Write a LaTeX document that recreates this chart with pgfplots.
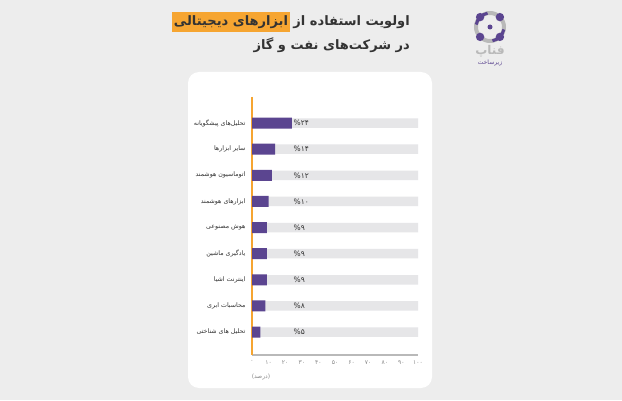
\documentclass[border=0pt]{standalone}
\usepackage{pgfplots}
\pgfplotsset{compat=1.18}
\usepackage{fontspec}
\setmainfont{DejaVu Sans}
\newfontfamily\fa[Script=Arabic]{DejaVu Sans}
\TeXXeTstate=1
\definecolor{bg}{HTML}{EDEDED}
\definecolor{barp}{HTML}{5B4590}
\definecolor{barg}{HTML}{E6E6E8}
\definecolor{orng}{HTML}{F6A531}
\definecolor{txt}{HTML}{333333}
\definecolor{tickc}{HTML}{8A8A8A}
\definecolor{logog}{HTML}{B9B9B9}
\begin{document}
\begin{tikzpicture}
\begin{scope}[x=1pt,y=1pt]
\fill[bg] (0,0) rectangle (622,400);
\fill[black!7,rounded corners=11pt] (189,10) rectangle (434,327);
\fill[white,rounded corners=11pt] (188,12) rectangle (432,328);
% title
\node[anchor=east,inner sep=0pt,text=txt,font=\fa\bfseries\fontsize{13}{15}\selectfont] (t1) at (410,378) {\beginR اولویت استفاده از\endR};
\node[anchor=east,inner xsep=2pt,inner ysep=3pt,fill=orng,text=txt,font=\fa\bfseries\fontsize{13}{15}\selectfont] at ([xshift=-3pt]t1.west) {\beginR ابزارهای دیجیتالی\endR};
\node[anchor=east,inner sep=0pt,text=txt,font=\fa\bfseries\fontsize{13}{15}\selectfont] at (410,355) {\beginR در شرکت‌های نفت و گاز\endR};
% logo
\draw[logog,line width=4pt] (490,373) circle (14);
\foreach \a in {45,135,225,315}{\fill[barp] (490,373)++(\a:14) circle (4.2);}
\draw[barp,line width=3pt] (490,373)++(100:14) arc (100:170:14);
\draw[barp,line width=3pt] (490,373)++(280:14) arc (280:350:14);
\fill[barp] (490,373) circle (2.5);
\node[text=logog,font=\fa\bfseries\fontsize{12}{13}\selectfont] at (490,349) {\beginR فناپ\endR};
\node[text=barp,font=\fa\fontsize{6}{7}\selectfont] at (490,337) {\beginR زیرساخت\endR};
% unit
\node[text=tickc,font=\fontsize{6}{7}\selectfont] at (261,23) {({\fa\beginR درصد\endR})};
\end{scope}
\begin{axis}[
  at={(252pt,45pt)}, anchor=south west,
  scale only axis, width=166pt, height=258pt,
  xmin=0, xmax=100, ymin=-1.0, ymax=8.88, y dir=reverse,
  axis x line*=bottom, axis y line*=left,
  x axis line style={draw=gray!55, line width=1.4pt, -},
  y axis line style={draw=orng, line width=1.2pt, -},
  major tick length=0pt,
  xtick={0,10,...,100},
  xticklabels={۰,۱۰,۲۰,۳۰,۴۰,۵۰,۶۰,۷۰,۸۰,۹۰,۱۰۰},
  xticklabel style={font=\fontsize{6}{7}\selectfont, text=tickc, yshift=-2pt},
  ytick={0,...,8},
  yticklabels={
    {\beginR تحلیل‌های پیشگویانه\endR},
    {\beginR سایر ابزارها\endR},
    {\beginR اتوماسیون هوشمند\endR},
    {\beginR ابزارهای هوشمند\endR},
    {\beginR هوش مصنوعی\endR},
    {\beginR یادگیری ماشین\endR},
    {\beginR اینترنت اشیا\endR},
    {\beginR محاسبات ابری\endR},
    {\beginR تحلیل های شناختی\endR}},
  yticklabel style={font=\fa\fontsize{6.3}{7}\selectfont, text=txt, xshift=-3pt},
  clip=false,
]
\addplot[xbar, bar width=9.5pt, bar shift=0pt, fill=barg, draw=none]
  coordinates {(100,0) (100,1) (100,2) (100,3) (100,4) (100,5) (100,6) (100,7) (100,8)};
\addplot[xbar, bar width=11pt, bar shift=0pt, fill=barp, draw=none]
  coordinates {(24,0) (14,1) (12,2) (10,3) (9,4) (9,5) (9,6) (8,7) (5,8)};
\addplot[draw=none, mark=none, nodes near coords, point meta=explicit symbolic,
  nodes near coords style={anchor=west, inner sep=0pt, font=\fontsize{7.5}{8}\selectfont, text=txt}]
  coordinates {(25,0) [\%۲۴] (25,1) [\%۱۴] (25,2) [\%۱۲] (25,3) [\%۱۰] (25,4) [\%۹] (25,5) [\%۹] (25,6) [\%۹] (25,7) [\%۸] (25,8) [\%۵]};
\end{axis}
\end{tikzpicture}
\end{document}
